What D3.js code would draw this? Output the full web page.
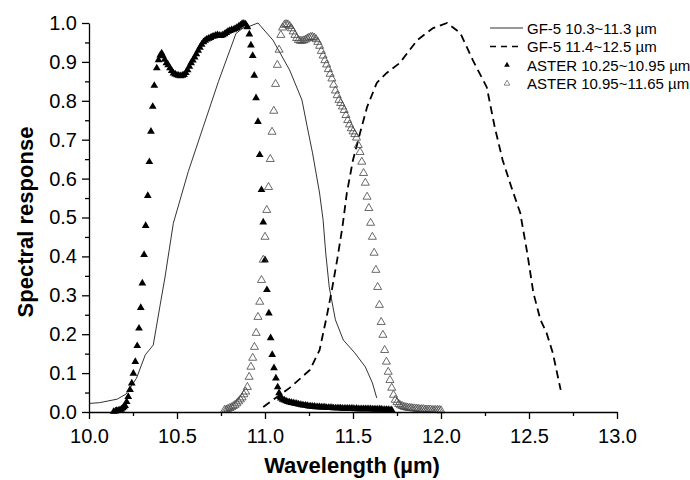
<!DOCTYPE html>
<html>
<head>
<meta charset="utf-8">
<script src="https://cdn.jsdelivr.net/npm/d3@7"></script>
<style>
  body { margin: 0; background: #fff; }
  svg { display: block; }
  text { font-family: "Liberation Sans", Arial, Helvetica, sans-serif; }
</style>
</head>
<body>
<svg id="chart" width="690" height="480"></svg>
<script>
// Axis ticks
const xTicks = [10.0, 10.5, 11.0, 11.5, 12.0, 12.5, 13.0];
const xMinorTicks = [10.25, 10.75, 11.25, 11.75, 12.25, 12.75];
const yTicks = [0.0, 0.1, 0.2, 0.3, 0.4, 0.5, 0.6, 0.7, 0.8, 0.9, 1.0];
const yMinorTicks = [0.05, 0.15, 0.25, 0.35, 0.45, 0.55, 0.65, 0.75, 0.85, 0.95];

// Legend labels
const seriesNames = [
  "GF-5 10.3~11.3 \u00b5m",
  "GF-5 11.4~12.5 \u00b5m",
  "ASTER 10.25~10.95 \u00b5m",
  "ASTER 10.95~11.65 \u00b5m"
];

// GF-5 band 10.3~11.3 µm: [wavelength, response]
const gf5BandA = [
  [10.00,0.022],[10.06,0.024],[10.16,0.033],[10.21,0.046],[10.27,0.087],[10.32,0.147],
  [10.365,0.172],[10.403,0.272],[10.432,0.347],[10.479,0.485],[10.564,0.618],[10.649,0.733],
  [10.735,0.849],[10.835,0.973],[10.875,0.987],[10.915,0.992],[10.96,1.000],[11.045,0.956],
  [11.14,0.879],[11.21,0.802],[11.24,0.733],[11.27,0.666],[11.31,0.563],[11.33,0.494],
  [11.345,0.409],[11.365,0.321],[11.40,0.237],[11.445,0.185],[11.51,0.152],[11.57,0.116],
  [11.61,0.075],[11.635,0.036]
];

// GF-5 band 11.4~12.5 µm
const gf5BandB = [
  [10.99,0.013],[11.14,0.062],[11.255,0.108],[11.31,0.159],[11.35,0.244],[11.38,0.314],
  [11.41,0.391],[11.44,0.476],[11.465,0.563],[11.50,0.648],[11.54,0.717],[11.58,0.784],
  [11.635,0.846],[11.69,0.871],[11.765,0.897],[11.865,0.956],[11.955,0.987],[12.035,1.000],
  [12.11,0.974],[12.18,0.905],[12.26,0.835],[12.305,0.733],[12.35,0.648],[12.40,0.578],
  [12.45,0.512],[12.49,0.409],[12.525,0.306],[12.565,0.237],[12.60,0.203],[12.635,0.152],
  [12.68,0.057]
];

// ASTER band 10.25~10.95 µm
const asterBandA = [
  [10.14,0.001],[10.15,0.002],[10.157,0.003],[10.166,0.004],[10.176,0.005],[10.184,0.007],
  [10.191,0.010],[10.198,0.013],[10.205,0.016],[10.214,0.026],[10.223,0.039],[10.233,0.057],
  [10.243,0.074],[10.252,0.099],[10.263,0.129],[10.274,0.170],[10.284,0.215],[10.294,0.268],
  [10.303,0.331],[10.313,0.404],[10.322,0.479],[10.334,0.556],[10.343,0.643],[10.352,0.721],
  [10.362,0.785],[10.371,0.839],[10.385,0.884],[10.395,0.905],[10.405,0.917],[10.413,0.922],
  [10.42,0.915],[10.43,0.906],[10.44,0.897],[10.45,0.892],[10.46,0.884],[10.47,0.877],
  [10.48,0.871],[10.49,0.868],[10.50,0.866],[10.51,0.865],[10.52,0.864],[10.53,0.865],
  [10.54,0.867],[10.55,0.872],[10.56,0.879],[10.57,0.888],[10.58,0.897],[10.59,0.904],
  [10.60,0.912],[10.61,0.920],[10.62,0.929],[10.63,0.937],[10.64,0.945],[10.65,0.951],
  [10.66,0.955],[10.67,0.958],[10.68,0.960],[10.69,0.962],[10.70,0.965],[10.71,0.966],
  [10.72,0.968],[10.73,0.969],[10.74,0.968],[10.75,0.967],[10.76,0.969],[10.77,0.972],
  [10.78,0.975],[10.79,0.978],[10.80,0.980],[10.81,0.982],[10.82,0.983],[10.83,0.985],
  [10.84,0.988],[10.85,0.991],[10.86,0.994],[10.87,0.998],[10.88,0.999],[10.89,0.997],
  [10.90,0.990],[10.911,0.971],[10.920,0.943],[10.930,0.916],[10.939,0.865],[10.949,0.807],
  [10.960,0.746],[10.970,0.661],[10.980,0.571],[10.990,0.488],[11.000,0.391],[11.011,0.314],
  [11.022,0.254],[11.032,0.190],[11.041,0.147],[11.051,0.113],[11.062,0.087],[11.072,0.064],
  [11.080,0.049],[11.087,0.039],[11.09,0.035],[11.10,0.032],[11.11,0.030],[11.12,0.028],
  [11.13,0.026],[11.14,0.025],[11.15,0.024],[11.16,0.023],[11.17,0.022],[11.18,0.021],
  [11.19,0.020],[11.20,0.019],[11.21,0.018],[11.22,0.017],[11.23,0.017],[11.24,0.016],
  [11.25,0.015],[11.26,0.015],[11.27,0.014],[11.28,0.014],[11.29,0.013],[11.30,0.013],
  [11.31,0.013],[11.32,0.012],[11.33,0.012],[11.34,0.012],[11.35,0.011],[11.36,0.011],
  [11.37,0.011],[11.38,0.011],[11.39,0.010],[11.40,0.010],[11.41,0.010],[11.42,0.010],
  [11.43,0.010],[11.44,0.009],[11.45,0.009],[11.46,0.009],[11.47,0.009],[11.48,0.009],
  [11.49,0.009],[11.50,0.009],[11.51,0.008],[11.52,0.009],[11.53,0.008],[11.54,0.008],
  [11.55,0.008],[11.56,0.008],[11.57,0.008],[11.58,0.008],[11.59,0.008],[11.60,0.008],
  [11.61,0.007],[11.62,0.007],[11.63,0.007],[11.64,0.007],[11.65,0.007],[11.66,0.007],
  [11.67,0.006],[11.68,0.006],[11.69,0.006],[11.70,0.006],[11.71,0.005],[11.72,0.005]
];

// ASTER band 10.95~11.65 µm
const asterBandB = [
  [10.77,0.005],[10.78,0.006],[10.79,0.008],[10.80,0.010],[10.81,0.012],[10.82,0.015],
  [10.83,0.018],[10.84,0.022],[10.85,0.027],[10.86,0.032],[10.87,0.037],[10.88,0.045],
  [10.89,0.052],[10.90,0.064],[10.91,0.090],[10.92,0.116],[10.93,0.139],[10.94,0.167],
  [10.95,0.203],[10.96,0.244],[10.97,0.283],[10.98,0.339],[10.99,0.391],[11.00,0.450],
  [11.01,0.519],[11.02,0.578],[11.03,0.650],[11.04,0.720],[11.05,0.774],[11.06,0.843],
  [11.07,0.892],[11.08,0.931],[11.09,0.969],[11.10,0.988],[11.11,0.995],[11.12,0.997],
  [11.13,0.996],[11.14,0.992],[11.15,0.986],[11.16,0.978],[11.17,0.969],[11.18,0.961],
  [11.19,0.956],[11.20,0.954],[11.21,0.954],[11.22,0.955],[11.23,0.957],[11.24,0.960],
  [11.25,0.962],[11.26,0.964],[11.27,0.964],[11.28,0.962],[11.29,0.958],[11.30,0.951],
  [11.31,0.941],[11.32,0.928],[11.33,0.916],[11.34,0.904],[11.35,0.893],[11.36,0.881],
  [11.37,0.869],[11.38,0.857],[11.39,0.841],[11.40,0.826],[11.41,0.814],[11.42,0.802],
  [11.43,0.794],[11.44,0.785],[11.45,0.776],[11.46,0.763],[11.47,0.750],[11.48,0.739],
  [11.49,0.729],[11.50,0.721],[11.51,0.714],[11.52,0.705],[11.53,0.686],[11.54,0.668],
  [11.55,0.643],[11.56,0.614],[11.57,0.589],[11.58,0.553],[11.59,0.524],[11.60,0.486],
  [11.61,0.450],[11.62,0.409],[11.63,0.365],[11.64,0.321],[11.65,0.275],[11.66,0.231],
  [11.67,0.198],[11.68,0.159],[11.69,0.129],[11.70,0.103],[11.71,0.082],[11.72,0.062],
  [11.73,0.044],[11.74,0.031],[11.75,0.025],[11.76,0.020],[11.77,0.017],[11.78,0.015],
  [11.79,0.013],[11.80,0.012],[11.81,0.011],[11.82,0.010],[11.83,0.010],[11.84,0.009],
  [11.85,0.009],[11.86,0.008],[11.87,0.008],[11.88,0.007],[11.89,0.007],[11.90,0.007],
  [11.91,0.006],[11.92,0.006],[11.93,0.006],[11.94,0.006],[11.95,0.005],[11.96,0.005],
  [11.97,0.005],[11.98,0.005],[11.99,0.005],[12.00,0.004]
];

const svg = d3.select("#chart");

const x = d3.scaleLinear().domain([10, 13]).range([89, 617]);
const y = d3.scaleLinear().domain([0, 1]).range([412, 23]);

// Curves
const line = d3.line().x(d => x(d[0])).y(d => y(d[1]));

svg.append("path")
  .datum(gf5BandA)
  .attr("d", line)
  .attr("fill", "none")
  .attr("stroke", "#333")
  .attr("stroke-width", 1);

svg.append("path")
  .datum(gf5BandB)
  .attr("d", line)
  .attr("fill", "none")
  .attr("stroke", "#000")
  .attr("stroke-width", 1.8)
  .attr("stroke-dasharray", "8,5");

// Markers
const triFilled = d3.symbol(d3.symbolTriangle, 26)();
const triOpen = d3.symbol(d3.symbolTriangle, 28)();

svg.append("g").selectAll("path")
  .data(asterBandA)
  .join("path")
  .attr("d", triFilled)
  .attr("transform", d => `translate(${x(d[0])},${y(d[1])})`)
  .attr("fill", "#000");

svg.append("g").selectAll("path")
  .data(asterBandB)
  .join("path")
  .attr("d", triOpen)
  .attr("transform", d => `translate(${x(d[0])},${y(d[1])})`)
  .attr("fill", "none")
  .attr("stroke", "#444")
  .attr("stroke-width", 0.8);

// Axes
function styleAxis(g) {
  g.select(".domain").attr("stroke", "#000").attr("stroke-width", 1.3);
  g.selectAll(".tick line").attr("stroke", "#000").attr("stroke-width", 1.3);
  g.selectAll(".tick text")
    .attr("fill", "#000")
    .attr("font-size", 20)
    .attr("font-family", "'Liberation Sans', Arial, sans-serif");
}

svg.append("g")
  .attr("transform", `translate(0,${y(0)})`)
  .call(d3.axisBottom(x).tickValues(xTicks).tickFormat(d3.format(".1f"))
    .tickSize(7).tickSizeOuter(0).tickPadding(10))
  .call(styleAxis);

svg.append("g")
  .attr("transform", `translate(0,${y(0)})`)
  .call(d3.axisBottom(x).tickValues(xMinorTicks).tickFormat("").tickSize(4).tickSizeOuter(0))
  .call(g => g.select(".domain").remove())
  .call(styleAxis);

svg.append("g")
  .attr("transform", `translate(${x(10)},0)`)
  .call(d3.axisLeft(y).tickValues(yTicks).tickFormat(d3.format(".1f"))
    .tickSize(7).tickSizeOuter(0).tickPadding(5))
  .call(styleAxis);

svg.append("g")
  .attr("transform", `translate(${x(10)},0)`)
  .call(d3.axisLeft(y).tickValues(yMinorTicks).tickFormat("").tickSize(4).tickSizeOuter(0))
  .call(g => g.select(".domain").remove())
  .call(styleAxis);

// Axis titles
svg.append("text")
  .attr("x", 352)
  .attr("y", 473)
  .attr("text-anchor", "middle")
  .attr("font-size", 22)
  .attr("font-weight", "bold")
  .text("Wavelength (\u00b5m)");

svg.append("text")
  .attr("transform", "translate(33,222) rotate(-90)")
  .attr("text-anchor", "middle")
  .attr("font-size", 22)
  .attr("font-weight", "bold")
  .text("Spectral response");

// Legend
const legend = svg.append("g");
const rowY = [28, 46.5, 65, 83.5];

legend.append("line")
  .attr("x1", 490).attr("x2", 523).attr("y1", rowY[0]).attr("y2", rowY[0])
  .attr("stroke", "#333").attr("stroke-width", 1);
legend.append("line")
  .attr("x1", 490).attr("x2", 523).attr("y1", rowY[1]).attr("y2", rowY[1])
  .attr("stroke", "#000").attr("stroke-width", 1.5).attr("stroke-dasharray", "6,5");
legend.append("path")
  .attr("d", d3.symbol(d3.symbolTriangle, 14)())
  .attr("transform", `translate(507,${rowY[2]})`)
  .attr("fill", "#000");
legend.append("path")
  .attr("d", d3.symbol(d3.symbolTriangle, 14)())
  .attr("transform", `translate(507,${rowY[3]})`)
  .attr("fill", "none").attr("stroke", "#555").attr("stroke-width", 0.7);

legend.selectAll("text")
  .data(seriesNames)
  .join("text")
  .attr("x", 527)
  .attr("y", (d, i) => rowY[i] + 5.5)
  .attr("font-size", 15)
  .attr("fill", "#000")
  .text(d => d);
</script>
</body>
</html>
